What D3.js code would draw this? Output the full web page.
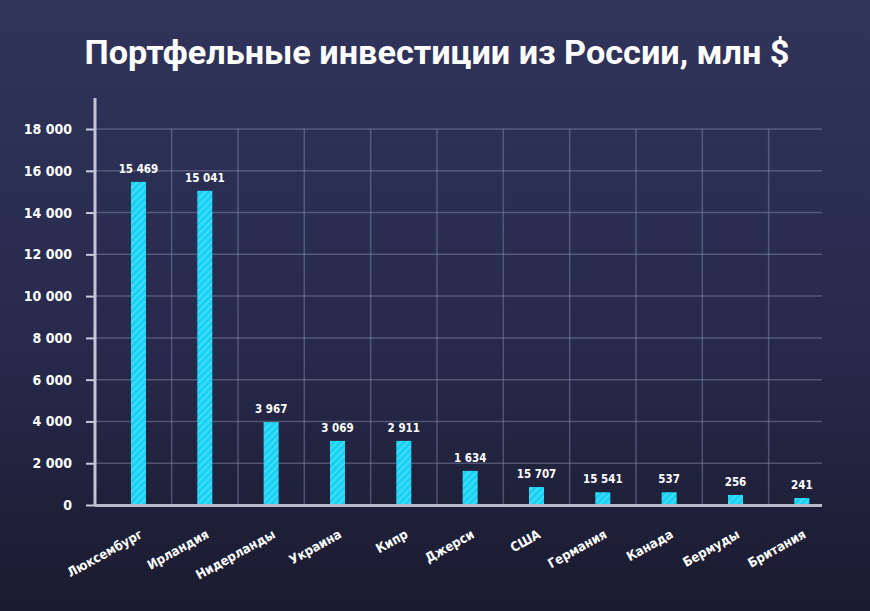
<!DOCTYPE html>
<html><head><meta charset="utf-8">
<script src="https://cdn.jsdelivr.net/npm/d3@7"></script>
<style>html,body{margin:0;padding:0;background:#23264a;}svg{display:block;}</style>
</head><body>
<script>
const categories = ["Люксембург","Ирландия","Нидерланды","Украина","Кипр","Джерси","США","Германия","Канада","Бермуды","Британия"];
// bar heights as drawn in the picture
const values = [15469, 15041, 3967, 3069, 3069, 1634, 860, 610, 610, 480, 335];
// value labels as printed in the picture
const valueLabels = ["15 469","15 041","3 967","3 069","2 911","1 634","15 707","15 541","537","256","241"];
const yTicks = [0,2000,4000,6000,8000,10000,12000,14000,16000,18000];
const title = "Портфельные инвестиции из России, млн $";

const W = 870, H = 611;
const svg = d3.select("body").append("svg").attr("width", W).attr("height", H);
const defs = svg.append("defs");
const bg = defs.append("linearGradient").attr("id","bg").attr("x1",0).attr("y1",0).attr("x2",0).attr("y2",1);
bg.append("stop").attr("offset","0%").attr("stop-color","#30345b");
bg.append("stop").attr("offset","55%").attr("stop-color","#272a4c");
bg.append("stop").attr("offset","100%").attr("stop-color","#1a1b2f");
svg.append("rect").attr("width",W).attr("height",H).attr("fill","url(#bg)");

const pat = defs.append("pattern").attr("id","hatch").attr("patternUnits","userSpaceOnUse")
  .attr("width",5).attr("height",5).attr("patternTransform","rotate(45)");
pat.append("rect").attr("width",5).attr("height",5).attr("fill","#16d2f4");
pat.append("rect").attr("width",1.6).attr("height",5).attr("fill","#4fdcf6");

const y = d3.scaleLinear().domain([0,18000]).range([505,129]);
const x = d3.scaleBand().domain(categories).range([105.3, 835]).paddingInner(0.774).paddingOuter(0.387);
const xL = 95, xR = 822;

const fmt = d => d3.format(",")(d).replace(/,/g," ");
const font = "'DejaVu Sans Condensed','Liberation Sans Narrow','Roboto',sans-serif";

// horizontal gridlines
svg.append("g").selectAll("line").data(yTicks.filter(d=>d>0)).join("line")
  .attr("x1",xL).attr("x2",xR).attr("y1",d=>y(d)).attr("y2",d=>y(d))
  .attr("stroke","#8a8eb0").attr("stroke-opacity",0.45).attr("stroke-width",1.5);
// vertical gridlines between bars
const mids = categories.slice(0,-1).map((c,i)=> (x(c)+x(categories[i+1]))/2 + x.bandwidth()/2);
svg.append("g").selectAll("line").data(mids).join("line")
  .attr("x1",d=>d).attr("x2",d=>d).attr("y1",y(18000)).attr("y2",y(0))
  .attr("stroke","#8a8eb0").attr("stroke-opacity",0.45).attr("stroke-width",1.5);

// y axis
const yAxis = d3.axisLeft(y).tickValues(yTicks).tickFormat(fmt).tickSize(9).tickPadding(14);
const ga = svg.append("g").attr("transform",`translate(${xL},0)`).call(yAxis);
ga.select(".domain").remove();
ga.selectAll(".tick line").attr("stroke","#c9cad8").attr("stroke-width",2);
ga.selectAll(".tick text").attr("fill","#ffffff").attr("font-family",font).attr("font-weight","bold").attr("font-size",14);
svg.append("line").attr("x1",xL).attr("x2",xL).attr("y1",98).attr("y2",506).attr("stroke","#c4c5d6").attr("stroke-width",3);

// bars
svg.append("g").selectAll("rect").data(categories).join("rect")
  .attr("x",d=>x(d)).attr("width",x.bandwidth())
  .attr("y",(d,i)=>y(values[i])).attr("height",(d,i)=>y(0)-y(values[i]))
  .attr("fill","url(#hatch)");

// baseline
svg.append("line").attr("x1",xL).attr("x2",xR).attr("y1",505.5).attr("y2",505.5).attr("stroke","#b9bacb").attr("stroke-width",3);

// value labels
svg.append("g").selectAll("text").data(categories).join("text")
  .attr("x",d=>x(d)+x.bandwidth()/2).attr("y",(d,i)=>y(values[i])-9)
  .attr("text-anchor","middle").attr("fill","#ffffff").attr("font-family",font)
  .attr("font-weight","bold").attr("font-size",11.5).text((d,i)=>valueLabels[i]);

// category labels
svg.append("g").selectAll("text").data(categories).join("text")
  .attr("transform",d=>`translate(${x(d)+x.bandwidth()/2+5},${537}) rotate(-29)`)
  .attr("text-anchor","end").attr("fill","#ffffff").attr("font-family",font)
  .attr("font-weight","bold").attr("font-size",13).text(d=>d);

// title
svg.append("text").attr("x",437).attr("y",64).attr("text-anchor","middle")
  .attr("fill","#ffffff").attr("font-family","'Roboto','Noto Sans',sans-serif").attr("font-weight","bold")
  .attr("font-size",34).attr("textLength",705).attr("lengthAdjust","spacingAndGlyphs").text(title);
</script>
</body></html>
